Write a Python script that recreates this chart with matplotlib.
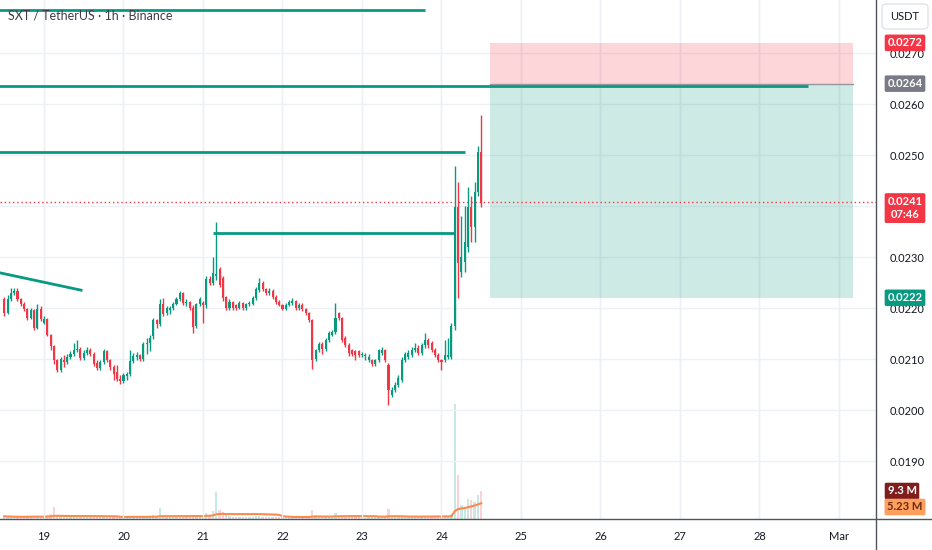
import matplotlib
matplotlib.use("Agg")
import matplotlib.pyplot as plt
import numpy as np
import pandas as pd
from matplotlib.lines import Line2D
from matplotlib.patches import FancyBboxPatch, Rectangle
from matplotlib.transforms import blended_transform_factory, offset_copy

plt.rcParams['font.family'] = ['Lato', 'DejaVu Sans']

# hourly candles from Feb 18 12:00 to Feb 24 12:00, prices in 1e-5 USDT
opens = [2218, 2190, 2218, 2229, 2233, 2218, 2208, 2198, 2180, 2196,
         2161, 2198, 2171, 2178, 2147, 2125, 2098, 2078, 2098, 2094,
         2104, 2110, 2118, 2120, 2102, 2112, 2118, 2110, 2092, 2082,
         2094, 2116, 2098, 2084, 2075, 2060, 2056, 2066, 2070, 2096,
         2104, 2108, 2100, 2130, 2132, 2145, 2176, 2168, 2208, 2190,
         2196, 2200, 2208, 2218, 2229, 2210, 2212, 2200, 2165, 2208,
         2210, 2206, 2257, 2249, 2262, 2276, 2259, 2222, 2200, 2212,
         2205, 2200, 2210, 2200, 2208, 2208, 2220, 2235, 2249, 2237,
         2229, 2233, 2222, 2212, 2206, 2198, 2206, 2210, 2214, 2200,
         2206, 2198, 2190, 2176, 2100, 2118, 2130, 2120, 2137, 2147,
         2153, 2190, 2180, 2141, 2127, 2118, 2116, 2116, 2108, 2106,
         2098, 2098, 2090, 2098, 2112, 2118, 2088, 2029, 2039, 2049,
         2059, 2098, 2104, 2108, 2118, 2122, 2112, 2127, 2137, 2131,
         2118, 2108, 2098, 2098, 2104, 2104, 2165, 2398, 2270, 2290,
         2320, 2398, 2359, 2427, 2506]
closes = [2190, 2218, 2229, 2233, 2218, 2208, 2198, 2180, 2196, 2161,
          2198, 2178, 2178, 2147, 2125, 2098, 2078, 2100, 2094, 2104,
          2110, 2118, 2120, 2102, 2112, 2118, 2110, 2090, 2082, 2094,
          2116, 2098, 2084, 2070, 2060, 2056, 2068, 2070, 2096, 2106,
          2108, 2100, 2130, 2132, 2141, 2176, 2168, 2208, 2188, 2200,
          2200, 2208, 2218, 2229, 2210, 2212, 2200, 2163, 2208, 2218,
          2206, 2257, 2249, 2268, 2266, 2245, 2220, 2200, 2212, 2200,
          2200, 2210, 2200, 2208, 2210, 2220, 2237, 2249, 2237, 2229,
          2233, 2222, 2212, 2206, 2198, 2206, 2212, 2214, 2200, 2206,
          2198, 2190, 2176, 2098, 2118, 2130, 2120, 2137, 2151, 2153,
          2180, 2180, 2137, 2127, 2112, 2110, 2108, 2108, 2110, 2108,
          2104, 2090, 2098, 2118, 2118, 2098, 2039, 2039, 2049, 2063,
          2098, 2110, 2112, 2118, 2122, 2112, 2127, 2137, 2127, 2118,
          2108, 2098, 2094, 2108, 2108, 2165, 2398, 2288, 2300, 2330,
          2398, 2359, 2427, 2506, 2408]
highs = [2222, 2225, 2239, 2239, 2239, 2220, 2212, 2200, 2200, 2198,
         2208, 2204, 2184, 2180, 2150, 2128, 2100, 2104, 2108, 2110,
         2116, 2132, 2137, 2124, 2118, 2124, 2122, 2114, 2098, 2098,
         2120, 2118, 2100, 2088, 2088, 2068, 2072, 2075, 2118, 2112,
         2114, 2110, 2134, 2141, 2147, 2180, 2178, 2218, 2220, 2204,
         2204, 2212, 2222, 2233, 2231, 2218, 2214, 2206, 2210, 2222,
         2214, 2262, 2262, 2300, 2369, 2280, 2262, 2224, 2218, 2214,
         2208, 2214, 2212, 2210, 2214, 2224, 2241, 2259, 2253, 2240,
         2239, 2237, 2226, 2216, 2208, 2210, 2216, 2220, 2216, 2210,
         2210, 2200, 2192, 2178, 2120, 2134, 2134, 2141, 2155, 2157,
         2210, 2192, 2182, 2145, 2131, 2120, 2118, 2118, 2114, 2112,
         2110, 2100, 2100, 2120, 2124, 2120, 2092, 2045, 2055, 2069,
         2104, 2114, 2118, 2124, 2131, 2127, 2131, 2151, 2141, 2135,
         2122, 2112, 2100, 2137, 2141, 2170, 2478, 2447, 2380, 2400,
         2437, 2420, 2447, 2518, 2578]
lows = [2185, 2188, 2214, 2226, 2214, 2204, 2195, 2176, 2178, 2157,
        2159, 2174, 2168, 2145, 2118, 2090, 2075, 2074, 2084, 2090,
        2100, 2106, 2114, 2098, 2098, 2108, 2106, 2086, 2078, 2078,
        2090, 2094, 2078, 2059, 2057, 2051, 2053, 2059, 2066, 2092,
        2098, 2096, 2096, 2110, 2115, 2140, 2160, 2164, 2184, 2186,
        2188, 2196, 2206, 2214, 2206, 2204, 2196, 2151, 2160, 2204,
        2171, 2200, 2245, 2245, 2255, 2241, 2214, 2196, 2196, 2196,
        2196, 2198, 2196, 2196, 2204, 2206, 2216, 2231, 2233, 2226,
        2226, 2218, 2208, 2204, 2196, 2196, 2204, 2206, 2196, 2196,
        2194, 2186, 2172, 2080, 2096, 2114, 2110, 2116, 2133, 2145,
        2150, 2176, 2133, 2123, 2106, 2106, 2098, 2104, 2104, 2098,
        2094, 2086, 2086, 2094, 2108, 2094, 2010, 2025, 2035, 2045,
        2055, 2094, 2100, 2104, 2114, 2108, 2108, 2122, 2122, 2114,
        2104, 2094, 2078, 2094, 2100, 2100, 2157, 2220, 2260, 2270,
        2310, 2329, 2329, 2420, 2398]
# volume in millions
volumes = [0.9, 0.7, 0.8, 0.6, 0.7, 0.8, 0.6, 0.9, 0.7, 1.0,
           0.9, 0.6, 0.7, 1.2, 1.5, 4.0, 1.1, 0.8, 0.6, 0.7,
           0.5, 0.6, 0.9, 0.7, 0.6, 0.5, 0.6, 0.8, 0.7, 0.5,
           0.6, 0.7, 0.8, 1.0, 0.9, 0.8, 0.6, 0.7, 1.1, 0.6,
           0.5, 0.6, 0.9, 0.7, 0.8, 1.2, 0.9, 3.5, 1.0, 0.8,
           0.6, 0.7, 0.8, 0.9, 0.7, 0.6, 0.5, 1.2, 1.4, 0.8,
           0.9, 2.0, 1.3, 2.5, 9.0, 3.0, 2.2, 1.5, 1.0, 0.8,
           0.7, 0.6, 0.8, 0.5, 0.6, 0.7, 0.9, 1.0, 0.8, 0.6,
           0.5, 0.7, 0.6, 0.8, 0.5, 0.6, 0.7, 0.6, 0.5, 0.6,
           0.5, 0.6, 0.8, 3.0, 1.2, 0.9, 0.8, 0.7, 0.8, 0.6,
           2.0, 1.1, 1.4, 0.9, 0.7, 0.6, 0.5, 0.6, 0.5, 0.4,
           0.5, 0.6, 0.5, 0.7, 0.6, 0.8, 3.2, 1.0, 0.7, 0.8,
           1.2, 0.8, 0.6, 0.5, 0.6, 0.5, 0.7, 0.9, 0.6, 0.5,
           0.6, 0.5, 0.9, 0.7, 0.6, 1.5, 38.0, 14.5, 4.5, 4.0,
           6.5, 6.2, 5.7, 8.0, 9.3]

day_labels = ['19', '20', '21', '22', '23', '24', '25', '26', '27', '28', 'Mar']
price_ticks = [0.0190, 0.0200, 0.0210, 0.0220, 0.0230, 0.0240, 0.0250, 0.0260, 0.0270]

# user drawn levels (price, start hour, end hour)
level_prices = [0.02785, 0.02635, 0.02506, 0.02347]
level_start = [-3, -3, -3, 63]
level_end = [127, 242.6, 139.1, 136.1]
trend_hours = [-1.3, 23.2]
trend_prices = [0.02269, 0.02235]

# short position tool
entry, stop, target = 0.0264, 0.0272, 0.0222
pos_hours = [146.6, 256.2]

GREEN = '#089981'
RED = '#f23645'
TXT = '#131722'

o = np.array(opens) / 1e5
c = np.array(closes) / 1e5
h = np.array(highs) / 1e5
l = np.array(lows) / 1e5
v = np.array(volumes)
t = np.arange(len(o))
up = c >= o
col = np.where(up, GREEN, RED)
last = c[-1]

W, H = 932, 550
fig = plt.figure(figsize=(W / 100, H / 100), dpi=100)
fig.patch.set_facecolor('white')
ax = fig.add_axes([0, 31 / H, 876 / W, 519 / H])

# volume pane underneath the price axes
ax2 = ax.twinx()
ax2.set_ylim(0, 519 * 0.33)
ax2.set_axis_off()
ax.set_zorder(ax2.get_zorder() + 1)
ax.patch.set_visible(False)
ax2.patch.set_visible(False)
ax2.bar(t, v, width=0.7, color=col, alpha=0.22, zorder=1)
vma = pd.Series(v).rolling(20, min_periods=1).mean()
ax2.plot(t, vma, color='#f98b4f', lw=1.5, zorder=2)

ax.set_xlim(-1.28, 263.17)
ax.set_ylim(0.017863, 0.02804)
for s in ax.spines.values():
    s.set_visible(False)

day_pos = 12 + 24 * np.arange(len(day_labels))
ax.set_xticks(day_pos, day_labels)
# the tick under the last-price label is hidden, as on the chart
ax.set_yticks(price_ticks, ['' if abs(p - last) < 0.0002 else f'{p:.4f}' for p in price_ticks])
ax.yaxis.tick_right()
ax.tick_params(axis='both', length=0, labelsize=8, labelcolor=TXT)
ax.tick_params(axis='x', pad=9)
ax.tick_params(axis='y', pad=10)
ax.grid(True, color='#edf0f5', lw=1)
ax.set_axisbelow(True)
for d in day_pos:
    ax2.axvline(d, color='#edf0f5', lw=1, zorder=0)

# drawings
for p, a, b in zip(level_prices, level_start, level_end):
    ax.plot([a, b], [p, p], color=GREEN, lw=2, solid_capstyle='butt', zorder=4)
ax.plot(trend_hours, trend_prices, color=GREEN, lw=2, zorder=4)

ax.add_patch(Rectangle((pos_hours[0], entry), pos_hours[1] - pos_hours[0], stop - entry,
                       color=RED, alpha=0.2, lw=0, zorder=1))
ax.add_patch(Rectangle((pos_hours[0], target), pos_hours[1] - pos_hours[0], entry - target,
                       color=GREEN, alpha=0.2, lw=0, zorder=1))
ax.plot(pos_hours, [entry, entry], color='#9598a1', lw=1, zorder=3)

# candles
ax.vlines(t, l, h, colors=col, lw=1, zorder=5)
ax.bar(t, np.abs(c - o) + 1e-6, bottom=np.minimum(o, c), width=0.62, color=col, lw=0, zorder=6)

ax.axhline(last, color=RED, lw=1, ls=(0, (1, 2)), zorder=3)

# frame lines
fig.add_artist(Line2D([876 / W, 876 / W], [0, 1], color='#50535e', lw=1))
fig.add_artist(Line2D([0, 1], [31 / H, 31 / H], color='#50535e', lw=1))

fig.text(8 / W, 1 - 16 / H, 'SXT / TetherUS · 1h · Binance', fontsize=9,
         color='#3c3f48', va='center', ha='left')

# price scale labels
tr = blended_transform_factory(fig.transFigure, ax.transData)
lab_x = 905 / W


def price_label(price, text, fc, tc='white', weight='bold'):
    ax.text(lab_x, price, text, transform=tr, ha='center', va='center', fontsize=8,
            color=tc, fontweight=weight, clip_on=False, zorder=10,
            bbox=dict(boxstyle='round,pad=0.25,rounding_size=0.15', fc=fc, ec='none'))


price_label(stop, f'{stop:.4f}', RED)
price_label(entry, f'{entry:.4f}', '#787b86')
price_label(target, f'{target:.4f}', GREEN)
ax.text(lab_x, last, f'{last:.4f}\n07:46', transform=offset_copy(tr, fig=fig, y=6, units='dots'),
        ha='center', va='top', fontsize=8, color='white', fontweight='bold',
        clip_on=False, zorder=10, linespacing=1.25,
        bbox=dict(boxstyle='round,pad=0.25,rounding_size=0.15', fc=RED, ec='none'))

fig.text(lab_x - 3 / W, 1 - 491 / H, f'{v[-1]:.1f} M', ha='center', va='center',
         fontsize=8, color='white', fontweight='bold',
         bbox=dict(boxstyle='round,pad=0.25,rounding_size=0.15', fc='#7f1d1d', ec='none'))
fig.text(lab_x, 1 - 507 / H, f'{vma.iloc[-1]:.2f} M', ha='center', va='center',
         fontsize=8, color='#6b2a0e', fontweight='bold',
         bbox=dict(boxstyle='round,pad=0.25,rounding_size=0.15', fc='#ff9f5e', ec='none'))

fig.add_artist(FancyBboxPatch((882 / W, 1 - 29 / H), 46 / W, 25 / H,
                              boxstyle='round,pad=0,rounding_size=0.006',
                              fc='white', ec='#e0e3eb', lw=1, transform=fig.transFigure))
fig.text(905 / W, 1 - 17 / H, 'USDT', ha='center', va='center', fontsize=8, color=TXT)

fig.savefig('out.png', dpi=100)
